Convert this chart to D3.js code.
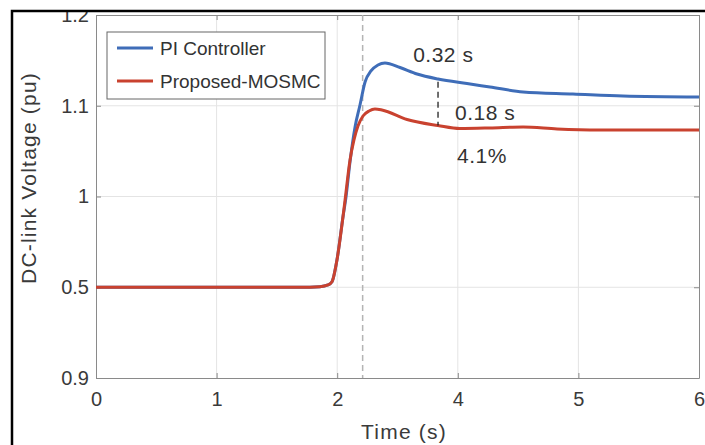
<html>
<head>
    <title>DC-link Voltage response</title>
    <script src="https://d3js.org/d3.v7.min.js"></script>
    <style>
        body { margin: 0; background: #fff; }
        .grid line { stroke: #e4e4e4; stroke-width: 1px; }
        .tickLabel { font-family: "Liberation Sans", Arial, sans-serif; font-size: 20px; fill: #3a3a3a; }
        .axisTitle { font-family: "Liberation Sans", Arial, sans-serif; font-size: 21px; fill: #3a3a3a; letter-spacing: 1.2px; }
        .legendText { font-family: "Liberation Sans", Arial, sans-serif; font-size: 19px; fill: #333; }
        .annot { font-family: "Liberation Sans", Arial, sans-serif; font-size: 21px; fill: #333; letter-spacing: 0.5px; }
    </style>
</head>
<body>
<svg id="chart" width="705" height="445"></svg>
<script>
    // axis ticks: positions on the scale and the labels printed at them
    const xTickVals = [0, 1, 2, 3, 4, 5];
    const xTickLabels = ["0", "1", "2", "4", "5", "6"];
    const yTickVals = [0.8, 0.9, 1.0, 1.1, 1.2];
    const yTickLabels = ["0.9", "0.5", "1", "1.1", "1.2"];

    const seriesNames = ["PI Controller", "Proposed-MOSMC"];

    // PI controller response (time, voltage)
    const piTime = [0, 1.69, 1.857, 1.924, 1.957, 1.998, 2.048, 2.073, 2.106, 2.148, 2.189, 2.231, 2.28, 2.338, 2.396,
        2.521, 2.662, 2.836, 3.076, 3.267, 3.541, 3.955, 4.37, 5.0];
    const piVolt = [0.9, 0.9, 0.9006, 0.9025, 0.906, 0.93, 0.9777, 0.9994, 1.038, 1.0766, 1.1008, 1.1262, 1.1383, 1.1449, 1.1471,
        1.1421, 1.135, 1.1295, 1.1245, 1.1207, 1.1152, 1.113, 1.1107, 1.1096];

    // Proposed-MOSMC response
    const smcTime = [0, 1.69, 1.857, 1.924, 1.957, 1.998, 2.048, 2.065, 2.106, 2.139, 2.172, 2.214, 2.264, 2.313, 2.371,
        2.579, 2.836, 3.018, 3.267, 3.541, 3.823, 4.179, 5.0];
    const smcVolt = [0.9, 0.9, 0.9006, 0.9025, 0.906, 0.93, 0.9777, 0.996, 1.04, 1.0623, 1.0777, 1.0887, 1.0942, 1.0964, 1.0953,
        1.0848, 1.0782, 1.0749, 1.0755, 1.0766, 1.0744, 1.0733, 1.0733];

    // reference lines and labels
    const stepTime = 2.211;
    const settleTime = 2.836;
    const settleTop = 1.1265;
    const settleBottom = 1.0782;
    const annotations = [
        {text: "0.32 s", t: 2.63, v: 1.148},
        {text: "0.18 s", t: 2.977, v: 1.084},
        {text: "4.1%", t: 2.993, v: 1.037}
    ];

    const svg = d3.select("#chart");
    const plot = {left: 96, right: 699, top: 15, bottom: 378};

    const x = d3.scaleLinear().domain([0, 5]).range([plot.left, plot.right]);
    const y = d3.scaleLinear().domain([0.8, 1.2]).range([plot.bottom, plot.top]);
    const color = d3.scaleOrdinal().domain(seriesNames).range(["#3f6db8", "#c9422f"]);

    svg.append("rect").attr("x", plot.left).attr("y", plot.top)
        .attr("width", plot.right - plot.left).attr("height", plot.bottom - plot.top)
        .attr("fill", "#fff");

    // grid
    const grid = svg.append("g").attr("class", "grid");
    grid.selectAll("line.gx").data(xTickVals.slice(1, -1)).join("line")
        .attr("class", "gx")
        .attr("x1", d => x(d)).attr("x2", d => x(d))
        .attr("y1", plot.top).attr("y2", plot.bottom);
    grid.selectAll("line.gy").data(yTickVals.slice(1, -1)).join("line")
        .attr("class", "gy")
        .attr("x1", plot.left).attr("x2", plot.right)
        .attr("y1", d => y(d)).attr("y2", d => y(d));

    // axes (box style with inward ticks)
    const tickFmtX = (d, i) => xTickLabels[i];
    const tickFmtY = (d, i) => yTickLabels[i];
    const axisStyle = g => {
        g.select(".domain").attr("stroke", "#8a8a8a");
        g.selectAll(".tick line").attr("stroke", "#8a8a8a");
    };
    svg.append("g").attr("transform", "translate(0," + plot.bottom + ")")
        .call(d3.axisBottom(x).tickValues(xTickVals).tickFormat(tickFmtX).tickSizeInner(-5).tickSizeOuter(0).tickPadding(14))
        .call(axisStyle)
        .selectAll("text").attr("class", "tickLabel").attr("font-size", null).attr("font-family", null);
    svg.append("g").attr("transform", "translate(0," + plot.top + ")")
        .call(d3.axisTop(x).tickValues(xTickVals).tickFormat("").tickSizeInner(-5).tickSizeOuter(0))
        .call(axisStyle);
    svg.append("g").attr("transform", "translate(" + plot.left + ",0)")
        .call(d3.axisLeft(y).tickValues(yTickVals).tickFormat(tickFmtY).tickSizeInner(-5).tickSizeOuter(0).tickPadding(7))
        .call(axisStyle)
        .selectAll("text").attr("class", "tickLabel").attr("font-size", null).attr("font-family", null);
    svg.append("g").attr("transform", "translate(" + plot.right + ",0)")
        .call(d3.axisRight(y).tickValues(yTickVals).tickFormat("").tickSizeInner(-5).tickSizeOuter(0))
        .call(axisStyle);

    // gray dashed step marker
    svg.append("line")
        .attr("x1", x(stepTime)).attr("x2", x(stepTime))
        .attr("y1", plot.top).attr("y2", plot.bottom)
        .attr("stroke", "#b4b4b4").attr("stroke-width", 1.5).attr("stroke-dasharray", "6,4");

    // curves
    const line = d3.line().curve(d3.curveMonotoneX).x(d => x(d[0])).y(d => y(d[1]));
    const series = [
        {name: seriesNames[0], pts: piTime.map((t, i) => [t, piVolt[i]])},
        {name: seriesNames[1], pts: smcTime.map((t, i) => [t, smcVolt[i]])}
    ];
    svg.selectAll("path.series").data(series).join("path")
        .attr("class", "series")
        .attr("fill", "none")
        .attr("stroke", d => color(d.name))
        .attr("stroke-width", 3)
        .attr("stroke-linejoin", "round")
        .attr("d", d => line(d.pts));

    // black dashed settling marker
    svg.append("line")
        .attr("x1", x(settleTime)).attr("x2", x(settleTime))
        .attr("y1", y(settleTop)).attr("y2", y(settleBottom))
        .attr("stroke", "#222").attr("stroke-width", 1.3).attr("stroke-dasharray", "6,4");

    svg.selectAll("text.annot").data(annotations).join("text")
        .attr("class", "annot")
        .attr("x", d => x(d.t)).attr("y", d => y(d.v))
        .text(d => d.text);

    // legend
    const legend = svg.append("g");
    legend.append("rect").attr("x", 107).attr("y", 32).attr("width", 218).attr("height", 67)
        .attr("fill", "#fff").attr("stroke", "#666").attr("stroke-width", 1);
    legend.selectAll("line").data(seriesNames).join("line")
        .attr("x1", 117).attr("x2", 153)
        .attr("y1", (d, i) => 48 + i * 33).attr("y2", (d, i) => 48 + i * 33)
        .attr("stroke", d => color(d)).attr("stroke-width", 3);
    legend.selectAll("text").data(seriesNames).join("text")
        .attr("class", "legendText")
        .attr("x", 160).attr("y", (d, i) => 55 + i * 33)
        .text(d => d);

    // axis titles
    svg.append("text").attr("class", "axisTitle")
        .attr("x", 404).attr("y", 439)
        .attr("text-anchor", "middle")
        .text("Time (s)");
    svg.append("text").attr("class", "axisTitle")
        .attr("transform", "translate(36,178) rotate(-90)")
        .attr("text-anchor", "middle")
        .text("DC-link Voltage (pu)");

    // figure frame, cropped at the top
    svg.append("rect").attr("x", 0).attr("y", 0).attr("width", 705).attr("height", 10).attr("fill", "#fff");
    svg.append("path")
        .attr("d", "M12,445 V11 H705")
        .attr("fill", "none").attr("stroke", "#000").attr("stroke-width", 2.5);
</script>
</body>
</html>
